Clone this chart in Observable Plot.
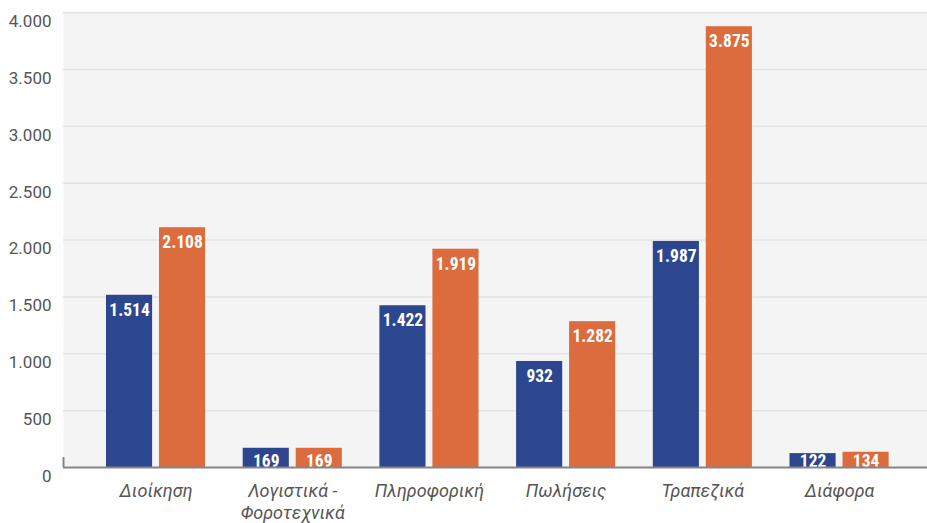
<!DOCTYPE html>
<html>
<head>
<meta charset="utf-8">
<script src="https://cdn.jsdelivr.net/npm/d3@7"></script>
<script src="https://cdn.jsdelivr.net/npm/@observablehq/plot@0.6"></script>
<style>
  html, body { margin: 0; padding: 0; background: #ffffff; }
  #chart svg { display: block; }
</style>
</head>
<body>
<div id="chart"></div>
<script>
const categories = ["Διοίκηση", "Λογιστικά - Φοροτεχνικά", "Πληροφορική", "Πωλήσεις", "Τραπεζικά", "Διάφορα"];
const series1Values = [1514, 169, 1422, 932, 1987, 122];
const series2Values = [2108, 169, 1919, 1282, 3875, 134];
const yTicks = [0, 500, 1000, 1500, 2000, 2500, 3000, 3500, 4000];

const colors = { s1: "#2c4690", s2: "#dc6b3e" };

const fmt = d => d3.format(",")(d).replace(/,/g, ".");

const data1 = categories.map((c, i) => ({ cat: c, v: series1Values[i] }));
const data2 = categories.map((c, i) => ({ cat: c, v: series2Values[i] }));

const SMALL = 400;
const labelFont = "'Liberation Sans Narrow', 'Roboto Condensed', 'DejaVu Sans Condensed', sans-serif";

function labels(data, opts) {
  return [
    Plot.text(data.filter(d => d.v >= SMALL), {
      x: "cat", y: "v", text: d => fmt(d.v), lineAnchor: "top", dy: 8,
      fill: "#ffffff", fontWeight: "bold", fontSize: 17.5, fontFamily: labelFont, ...opts
    }),
    Plot.text(data.filter(d => d.v < SMALL), {
      x: "cat", y: 0, text: d => fmt(d.v), lineAnchor: "bottom", dy: -1,
      fill: "#ffffff", fontWeight: "bold", fontSize: 17.5, fontFamily: labelFont, ...opts
    })
  ];
}

const inset = 53;
const barHalf = 23 + 3.5; // offset of label center from band center

const chart = Plot.plot({
  width: 927,
  height: 523,
  marginTop: 12,
  marginBottom: 56,
  marginLeft: 63,
  marginRight: 0,
  style: { fontFamily: "Roboto, sans-serif", background: "#ffffff" },
  x: { domain: categories, range: [68.4, 926.2], padding: 0.275, round: false, label: null },
  y: { domain: [0, 4000], label: null },
  marks: [
    Plot.frame({ fill: "#f4f4f4", stroke: null }),
    Plot.gridY(yTicks.filter(t => t > 0), { stroke: "#e3e3e3", strokeOpacity: 1, strokeWidth: 1.5 }),
    Plot.barY(data1, { x: "cat", y: "v", fill: colors.s1, insetRight: inset }),
    Plot.barY(data2, { x: "cat", y: "v", fill: colors.s2, insetLeft: inset }),
    ...labels(data1, { dx: -barHalf }),
    ...labels(data2, { dx: barHalf }),
    Plot.ruleY([0], { stroke: "#858585", strokeWidth: 2 }),
    Plot.axisY({
      ticks: yTicks, tickSize: 0, tickPadding: 12, dy: 9,
      tickFormat: fmt, fontSize: 17, fill: "#555555", label: null
    }),
    Plot.axisX({
      tickSize: 0, tickPadding: 14, fontSize: 18, fontStyle: "italic", fill: "#555555",
      lineHeight: 1.22, label: null,
      tickFormat: d => d.replace(" - ", " -\n")
    })
  ]
});

// small tick mark at the left end of the baseline
const svg = d3.select(chart);
svg.append("line")
  .attr("x1", 63.5).attr("x2", 63.5)
  .attr("y1", 457).attr("y2", 467)
  .attr("stroke", "#858585").attr("stroke-width", 2);

document.getElementById("chart").appendChild(chart);
</script>
</body>
</html>
